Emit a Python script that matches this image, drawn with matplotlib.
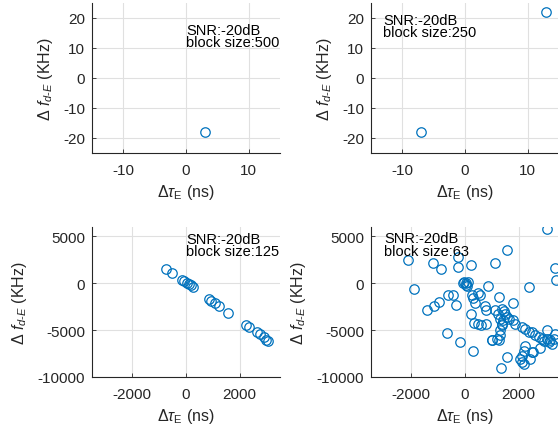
import matplotlib
matplotlib.use("Agg")
import matplotlib.pyplot as plt

plt.rcParams['font.family'] = ['Liberation Sans', 'DejaVu Sans']
plt.rcParams['mathtext.fontset'] = 'custom'
plt.rcParams['mathtext.rm'] = 'Liberation Sans'
plt.rcParams['mathtext.it'] = 'Liberation Sans:italic'
plt.rcParams['mathtext.bf'] = 'Liberation Sans:bold'
plt.rcParams['axes.unicode_minus'] = False

# ---- data ----
snr_text = "SNR:-20dB"
block_sizes = [500, 250, 125, 63]

x500 = [3]
y500 = [-18]

x250 = [-7, 13]
y250 = [-18, 22]

x125 = [-760, -536, -162, -62, 25, 100, 174, 274, 860, 922, 1084, 1233, 1582,
        2243, 2330, 2641, 2741, 2891, 2990, 3065]
y125 = [1489, 1059, 343, 236, 56, -87, -158, -445, -1733, -1876, -2091, -2449, -3129,
        -4490, -4669, -5206, -5385, -5743, -6029, -6172]

x63 = [-2120, -1900, -1180, -900, -1420, -1170, -960, -620, -430, -330, -660, -180,
       -250, -270, 220, 1110, 1560,
       -40, 30, -90, 20, 120, 60,
       250, 300, 390, 500, 560, 860, 240, 340, 490, 610, 800, 990, 1180, 300,
       1110, 780, 740, 1240, 1300, 1360, 1300, 1300, 1340, 1580, 1270,
       1370, 1460, 1500, 1560, 1430, 1370, 1620, 1800, 1870, 2120, 2240, 2370, 2490,
       2620, 2740, 2870, 2930, 3050, 3110, 3180, 3240, 3300, 3360, 3050, 2800, 2490,
       2240, 2180, 2120, 2060, 2120, 2180, 2430, 2550, 1020, 1270,
       3050, 2400, 1770, 3360, 3400]
y63 = [2450, -640, 2130, 1490, -2880, -2400, -1950, -1200, -1200, -2340, -5280, -6280,
       2850, 1780, 1950, 2130, 3580,
       160, -10, 0, -200, 140, -300,
       -1270, -1600, -2100, -1090, -1270, -300, -3300, -4240, -4310, -4490, -4310, -6100, -5950, -7250,
       -2800, -2880, -2450, -3240, -3780, -4310, -5030, -5560, -8990, -7890, -1450,
       -2700, -2950, -3240, -3600, -3950, -4490, -3780, -3950, -4310, -4670, -4850, -5200, -5200,
       -5560, -5740, -5920, -6170, -5920, -6280, -6100, -6460, -5920, -5390, -5030, -6890, -7350,
       -6640, -7180, -7710, -8070, -8430, -8610, -8070, -7350, -6100, -6030,
       5780, -370, -2090, 1600, 340]

datasets = [(x500, y500), (x250, y250), (x125, y125), (x63, y63)]

W, H = 558, 431
fig = plt.figure(figsize=(W / 100, H / 100), dpi=100)

def frac(l, t, r, b):
    return [l / W, 1 - b / H, (r - l) / W, (b - t) / H]

positions = [frac(92, 4, 280, 154), frac(371, 4, 559, 154),
             frac(92, 228, 280, 378), frac(371, 228, 559, 378)]

top_xlim = (-15, 15)
top_ylim = (-25, 25)
bot_xlim = (-3500, 3500)
bot_ylim = (-10000, 6000)

text_pos = [(0, 18.4), (-13.1, 21.8), (0, 5500), (-3020, 5550)]

gray = '#262626'
blue = '#0072BD'

for i, (pos, (xs, ys), bs, tp) in enumerate(zip(positions, datasets, block_sizes, text_pos)):
    ax = fig.add_axes(pos)
    ax.plot(xs, ys, linestyle='none', marker='o', markersize=6.8,
            markerfacecolor='none', markeredgecolor=blue, markeredgewidth=0.9,
            clip_on=True)
    if i < 2:
        ax.set_xlim(*top_xlim)
        ax.set_ylim(*top_ylim)
        ax.set_xticks([-10, 0, 10])
        ax.set_yticks([-20, -10, 0, 10, 20])
    else:
        ax.set_xlim(*bot_xlim)
        ax.set_ylim(*bot_ylim)
        ax.set_xticks([-2000, 0, 2000])
        ax.set_yticks([-10000, -5000, 0, 5000])
    for s in ['top', 'right']:
        ax.spines[s].set_visible(False)
    for s in ['left', 'bottom']:
        ax.spines[s].set_color(gray)
        ax.spines[s].set_linewidth(0.8)
    ax.grid(True, color='#e0e0e0', linewidth=0.8)
    ax.set_axisbelow(True)
    ax.tick_params(direction='in', length=3, width=0.6, colors=gray,
                   labelsize=11)
    ax.tick_params(axis='x', pad=7)
    ax.tick_params(axis='y', pad=5)
    ax.set_xlabel(r'$\Delta\tau_{\mathrm{E}}$ (ns)', fontsize=11.5, color=gray, labelpad=4)
    ax.set_ylabel(r'$\Delta$ $f_{d\text{-}E}$ (KHz)', fontsize=11.5, color=gray, labelpad=6)
    ax.text(tp[0], tp[1], f"{snr_text}\nblock size:{bs}", fontsize=10.5,
            color='black', va='top', ha='left', linespacing=0.88)

fig.savefig('out.png', dpi=100)
